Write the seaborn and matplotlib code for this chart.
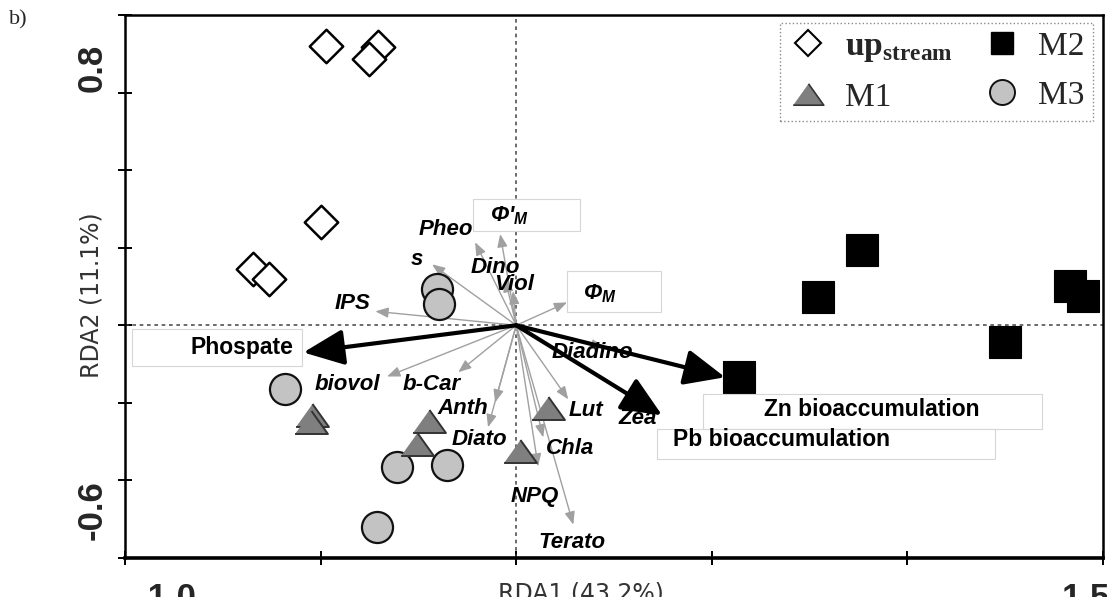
import matplotlib
matplotlib.use("Agg")
import matplotlib.pyplot as plt
from matplotlib.lines import Line2D
from matplotlib.patches import Rectangle
from matplotlib.transforms import IdentityTransform
import pandas as pd
import seaborn as sns

# ---- site scores on RDA1 / RDA2 ----
upstream_x = [-0.486, -0.353, -0.376, -0.498, -0.672, -0.631]
upstream_y = [0.720, 0.717, 0.686, 0.266, 0.145, 0.119]
m1_x = [-0.521, -0.524, -0.222, -0.253, 0.082, 0.010]
m1_y = [-0.232, -0.250, -0.248, -0.305, -0.214, -0.325]
m2_x = [0.884, 0.772, 1.416, 1.449, 1.250, 0.570]
m2_y = [0.194, 0.072, 0.101, 0.075, -0.044, -0.134]
m3_x = [-0.202, -0.197, -0.590, -0.304, -0.176, -0.355]
m3_y = [0.093, 0.054, -0.165, -0.366, -0.359, -0.519]

# ---- response variables (grey vectors) ----
resp_names = ["IPS", "s", "Pheo", "Φ'$_\\mathbf{M}$", "Dino", "Viol", "Φ$_\\mathbf{M}$",
              "Diadino", "Zea", "biovol", "b-Car", "Anth", "Diato", "NPQ", "Lut",
              "Chla", "Terato"]
resp_x = [-0.360, -0.215, -0.105, -0.041, -0.028, -0.008, 0.130, 0.225, 0.317,
          -0.330, -0.148, -0.054, -0.072, 0.056, 0.133, 0.069, 0.146]
resp_y = [0.036, 0.157, 0.214, 0.235, 0.119, 0.088, 0.059, -0.057, -0.196,
          -0.132, -0.121, -0.199, -0.263, -0.364, -0.191, -0.289, -0.514]

# ---- explanatory variables (black vectors) ----
expl_names = ["Phospate", "Zn bioaccumulation", "Pb bioaccumulation"]
expl_x = [-0.544, 0.534, 0.373]
expl_y = [-0.070, -0.134, -0.232]

# label offsets from the vector tip, in pixels (right, up)
resp_offsets = [(-23, 8), (-15, 5), (-29, 13), (9, 18), (-10, 12), (1, 7), (33, 9),
                (-12, -5), (-3, -17), (-40, -8), (-27, -12), (-32, -6), (-9, -12),
                (-3, -30), (18, -11), (27, -11), (-1, -18)]
expl_offsets = [(-10, 5), (147, -32), (119, -24)]
expl_ha = ["right", "center", "center"]

# white label panels, relative to the vector tip in pixels: (x0, y0, w, h)
panels = {
    "Phospate": (-171, -14, 170, 37),
    "Zn bioaccumulation": (-22, -52, 339, 35),
    "Pb bioaccumulation": (-5, -44, 338, 30),
    "Φ'$_\\mathbf{M}$": (-27, 3, 107, 32),
    "Φ$_\\mathbf{M}$": (0, -10, 94, 41),
}

sns.set_theme(style="white")
plt.rcParams["font.family"] = ["Liberation Sans", "DejaVu Sans"]
plt.rcParams["mathtext.fontset"] = "custom"
plt.rcParams["mathtext.rm"] = "Liberation Serif:bold"
plt.rcParams["mathtext.bf"] = "Liberation Sans:italic:bold"
plt.rcParams["mathtext.it"] = "Liberation Sans:italic:bold"

W, H = 1107, 597
fig = plt.figure(figsize=(W / 100, H / 100), dpi=100)
ax = fig.add_axes([125 / W, 1 - 558 / H, 978 / W, 543 / H])
ax.set_xlim(-1.0, 1.5)
ax.set_ylim(-0.6, 0.8)

# reference axes through the origin
ax.axhline(0, color="#444444", lw=1.1, ls=(0, (2.4, 2.4)), zorder=1)
ax.axvline(0, color="#444444", lw=1.1, ls=(0, (2.4, 2.4)), zorder=1)

# grey response vectors
for x, y in zip(resp_x, resp_y):
    ax.annotate("", xy=(x, y), xytext=(0, 0),
                arrowprops=dict(arrowstyle="-|>,head_length=0.55,head_width=0.22",
                                color="#a0a0a0", lw=1.0, shrinkA=0, shrinkB=0,
                                mutation_scale=14), zorder=2)

# black explanatory vectors
for x, y in zip(expl_x, expl_y):
    ax.annotate("", xy=(x, y), xytext=(0, 0),
                arrowprops=dict(arrowstyle="-|>,head_length=1.25,head_width=0.55",
                                color="black", lw=3.0, shrinkA=0, shrinkB=0,
                                mutation_scale=20), zorder=3)

tri = [(-1.0, -0.7), (1.0, -0.7), (0.0, 0.7)]
sites = [
    (upstream_x, upstream_y, dict(marker="D", s=290, color="white", edgecolor="black", linewidth=1.8)),
    (m2_x, m2_y, dict(marker="s", s=560, color="black", edgecolor="black", linewidth=0.8)),
    (m3_x, m3_y, dict(marker="o", s=500, color="#c3c3c3", edgecolor="#111111", linewidth=1.6)),
    (m1_x, m1_y, dict(marker=tri, s=560, color="#7f7f7f", edgecolor="#333333", linewidth=1.4)),
]
for xs, ys, kw in sites:
    sns.scatterplot(x=xs, y=ys, ax=ax, zorder=4, legend=False, **kw)

fig.canvas.draw()

# label panels
for name, (x0, y0, w, h) in panels.items():
    if name in expl_names:
        i = expl_names.index(name)
        tip = (expl_x[i], expl_y[i])
    else:
        i = resp_names.index(name)
        tip = (resp_x[i], resp_y[i])
    tx, ty = ax.transData.transform(tip)
    ax.add_patch(Rectangle((tx + x0, ty + y0), w, h, transform=IdentityTransform(),
                           facecolor="white", edgecolor="#d6d6d6", lw=0.8, zorder=5,
                           clip_on=False))

for name, x, y, (dx, dy) in zip(resp_names, resp_x, resp_y, resp_offsets):
    ax.annotate(name, xy=(x, y), xytext=(dx, dy), textcoords="offset pixels",
                ha="center", va="center", fontsize=16, fontstyle="italic",
                fontweight="bold", color="black", zorder=6)

for name, x, y, (dx, dy), ha in zip(expl_names, expl_x, expl_y, expl_offsets, expl_ha):
    ax.annotate(name, xy=(x, y), xytext=(dx, dy), textcoords="offset pixels",
                ha=ha, va="center", fontsize=16.5, fontweight="bold",
                color="black", zorder=6)

# axes frame and ticks
for side in ["left", "right", "top"]:
    ax.spines[side].set_linewidth(1.8)
    ax.spines[side].set_color("black")
ax.spines["bottom"].set_linewidth(2.6)
ax.spines["bottom"].set_color("black")
ax.set_xticks([-1.0, -0.5, 0.0, 0.5, 1.0, 1.5])
ax.set_yticks([-0.6, -0.4, -0.2, 0.0, 0.2, 0.4, 0.6, 0.8])
ax.tick_params(axis="both", direction="inout", length=10, width=1.4, color="black",
               labelleft=False, labelbottom=False, left=True, bottom=True)
ax.set_xlabel("")
ax.set_ylabel("")

# tick values and axis titles
fig.text(92 / W, 1 - 68 / H, "0.8", rotation=90, ha="center", va="center",
         fontsize=25, fontweight="bold")
fig.text(92 / W, 1 - 510 / H, "-0.6", rotation=90, ha="center", va="center",
         fontsize=25, fontweight="bold")
fig.text(196 / W, 1 - 608 / H, "-1.0", ha="right", va="baseline",
         fontsize=25, fontweight="bold")
fig.text(1062 / W, 1 - 608 / H, "1.5", ha="left", va="baseline",
         fontsize=25, fontweight="bold")
fig.text(581 / W, 1 - 600 / H, "RDA1 (43.2%)", ha="center", va="baseline",
         fontsize=17, color="#333333", family="DejaVu Sans")
fig.text(92 / W, 1 - 295 / H, "RDA2 (11.1%)", rotation=90, ha="center", va="center",
         fontsize=17, color="#333333", family="DejaVu Sans")
fig.text(18 / W, 1 - 20 / H, "b)", ha="center", va="center", fontsize=16,
         family="Liberation Serif")

# legend
handles = [
    Line2D([], [], ls="none", marker="D", markersize=13, markerfacecolor="white",
           markeredgecolor="black", markeredgewidth=1.5),
    Line2D([], [], ls="none", marker=tri, markersize=22, markerfacecolor="#7f7f7f",
           markeredgecolor="#333333", markeredgewidth=1.2),
    Line2D([], [], ls="none", marker="s", markersize=16, markerfacecolor="black",
           markeredgecolor="black"),
    Line2D([], [], ls="none", marker="o", markersize=18, markerfacecolor="#c3c3c3",
           markeredgecolor="#111111", markeredgewidth=1.4),
]
labels = ["$\\mathrm{up}_{\\mathrm{stream}}$", "M1", "M2", "M3"]
leg = ax.legend(handles, labels, ncol=2, loc="upper right",
                bbox_to_anchor=(0.990, 0.985), borderaxespad=0.0, frameon=True,
                fancybox=False, framealpha=1, edgecolor="#8a8a8a", borderpad=0.25,
                columnspacing=0.87, handlelength=1.2, handletextpad=0.5,
                labelspacing=0.55, prop={"family": "Liberation Serif", "size": 24})
leg.get_frame().set_linestyle(":")
leg.get_frame().set_linewidth(1.0)
leg.set_zorder(7)

fig.savefig("out.png", dpi=100)
